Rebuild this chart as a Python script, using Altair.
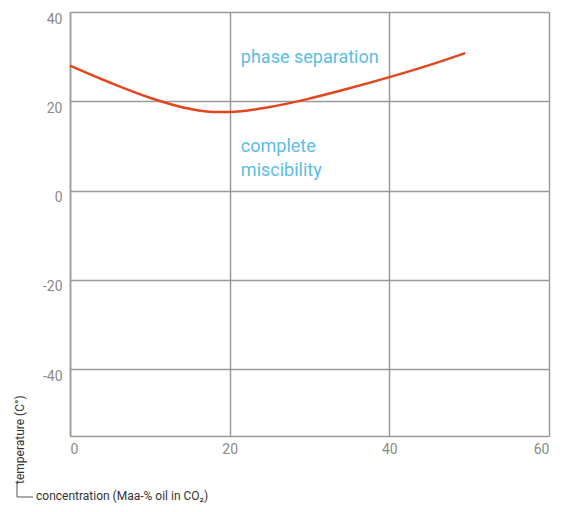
import altair as alt
import pandas as pd

conc = [0, 5, 10, 15, 18, 20, 25, 30, 35, 40, 45, 49.5]
temp = [28, 24.2, 20.8, 18.3, 17.6, 17.6, 18.7, 20.6, 22.9, 25.4, 28.1, 30.8]

ann_text = ["phase separation", "complete", "miscibility"]
ann_x = [21.4, 21.4, 21.4]
ann_y = [29.7, 9.7, 4.3]

x_ticks = [0, 20, 40, 60]
y_ticks = [-40, -20, 0, 20, 40]

FONT = "Roboto, Liberation Sans, sans-serif"
GRID = "#9a9a9a"

curve_df = pd.DataFrame({"c": conc, "t": temp})
ann_df = pd.DataFrame({"c": ann_x, "t": ann_y, "label": ann_text})
one = pd.DataFrame({"a": [0]})

xs = alt.Scale(domain=[0, 60], nice=False, zero=False)
ys = alt.Scale(domain=[-55, 40], nice=False, zero=False)

line = alt.Chart(curve_df).mark_line(color="#e2461f", strokeWidth=2.5, interpolate="monotone").encode(
    x=alt.X("c:Q", scale=xs, axis=alt.Axis(
        values=x_ticks, title=None, grid=True, gridColor=GRID, gridWidth=1.5,
        domainColor=GRID, domainWidth=1.5, ticks=False, labelColor="#8a8a8a",
        labelFont=FONT, labelFontSize=14, labelPadding=6, labelFlush=True,
        labelExpr="toString(datum.value)")),
    y=alt.Y("t:Q", scale=ys, axis=alt.Axis(
        values=y_ticks, title=None, grid=True, gridColor=GRID, gridWidth=1.5,
        domainColor=GRID, domainWidth=1.5, ticks=False, labelColor="#8a8a8a",
        labelFont=FONT, labelFontSize=14, labelPadding=8, labelBaseline="top",
        labelExpr="toString(datum.value)")),
)

ann = alt.Chart(ann_df).mark_text(
    color="#5bbde6", font=FONT, fontSize=18, align="left", baseline="middle"
).encode(x=alt.X("c:Q", scale=xs), y=alt.Y("t:Q", scale=ys), text="label:N")

ytitle = alt.Chart(one).mark_text(
    text="temperature (C°)", angle=270, align="left", baseline="middle",
    font=FONT, fontSize=12, color="#333333"
).encode(x=alt.value(-50), y=alt.value(472))

xtitle = alt.Chart(one).mark_text(
    text="concentration (Maa-% oil in CO₂)", align="left", baseline="middle",
    font=FONT, fontSize=12, color="#333333"
).encode(x=alt.value(-34), y=alt.value(484))

vrule = alt.Chart(one).mark_rule(color="#555555", strokeWidth=1).encode(
    x=alt.value(-53), y=alt.value(471), y2=alt.value(485))
hrule = alt.Chart(one).mark_rule(color="#555555", strokeWidth=1).encode(
    x=alt.value(-53), x2=alt.value(-37), y=alt.value(485))

chart = alt.layer(line, ann, ytitle, xtitle, vrule, hrule).properties(
    width=479, height=424,
    autosize=alt.AutoSizeParams(type="none"),
    padding={"left": 62, "top": 4, "right": 5, "bottom": 67},
).configure_view(stroke=GRID, strokeWidth=1.5).configure(background="white")

chart.save("out.html", embed_options={"renderer": "svg", "actions": False})
